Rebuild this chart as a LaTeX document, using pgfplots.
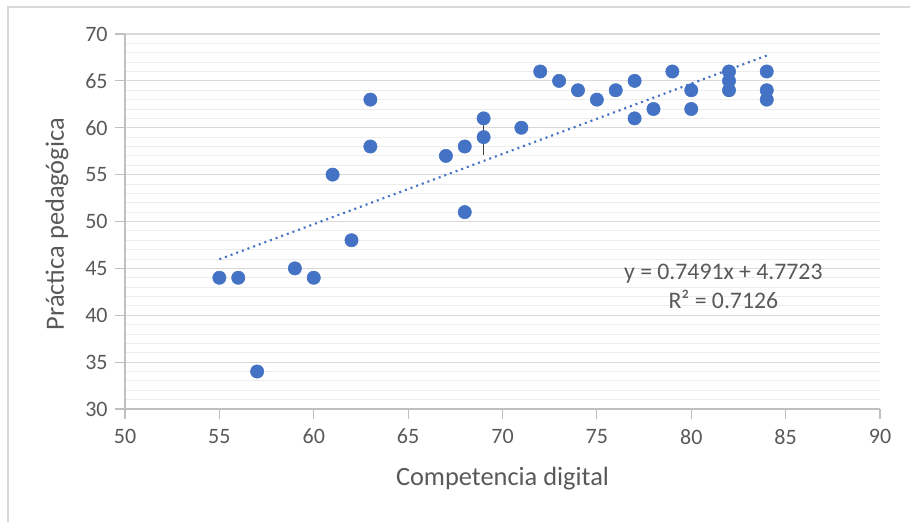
\documentclass[border=0pt]{standalone}
\usepackage{pgfplots}
\pgfplotsset{compat=1.18}
\usepackage{fontspec}
\setmainfont{Carlito}
\definecolor{pts}{HTML}{4472C4}
\definecolor{txt}{HTML}{595959}
\definecolor{majg}{HTML}{D9D9D9}
\definecolor{ming}{HTML}{EDEDED}
\definecolor{axl}{HTML}{BFBFBF}
\begin{document}
\begin{tikzpicture}[x=0.75pt,y=0.75pt]
\path[use as bounding box] (-125,-113) rectangle (785,409);
\draw[majg,line width=0.8pt] (-117,-113) -- (-117,402) -- (785,402);
\begin{axis}[
  at={(0,0)}, anchor=origin,
  scale only axis, width=566.25pt, height=281.25pt,
  xmin=50, xmax=90, ymin=30, ymax=70,
  xtick={50,55,...,90}, ytick={30,35,...,70},
  minor y tick num=4,
  ymajorgrids, yminorgrids,
  major grid style={majg, line width=0.8pt},
  minor grid style={ming, line width=0.6pt},
  axis line style={axl, line width=0.8pt},
  axis x line*=bottom, axis y line*=left,
  tick style={axl, line width=0.8pt},
  major tick length=7.5pt,
  tick align=outside,
  minor tick length=0pt,
  tick label style={txt, font=\fontsize{16.5}{19}\selectfont},
  /pgf/number format/assume math mode=true,
  xticklabel style={yshift=-4pt},
  yticklabel style={xshift=-2pt},
  xlabel={Competencia digital},
  ylabel={Práctica pedagógica},
  label style={txt, font=\fontsize{19.8}{23}\selectfont},
  xlabel style={at={(axis description cs:0.5,0)}, anchor=center, yshift=-52pt},
  ylabel style={at={(axis description cs:0,0.5)}, anchor=center, xshift=-2pt, yshift=51pt},
  clip=false,
]
\addplot[pts, line width=1.6pt, dash pattern=on 1.5pt off 3pt] coordinates {(55,45.97) (84,67.70)};
\addplot[black!75, line width=1pt] coordinates {(69,57.1) (69,60.8)};
\addplot[only marks, mark=*, mark size=5pt, mark options={fill=pts, draw=pts}] coordinates {
(55,44) (56,44) (57,34) (59,45) (60,44) (61,55) (62,48) (63,63) (63,58)
(67,57) (68,58) (68,51) (69,61) (69,59) (71,60) (72,66) (73,65) (74,64)
(75,63) (76,64) (77,65) (77,61) (78,62) (79,66) (80,64) (80,62)
(82,66) (82,65) (82,64) (84,66) (84,64) (84,63)};
\node[txt, font=\fontsize{17.8}{22}\selectfont, align=center] at (axis cs:81.7,43.05) {y = 0.7491x + 4.7723\\R² = 0.7126};
\end{axis}
\end{tikzpicture}
\end{document}
